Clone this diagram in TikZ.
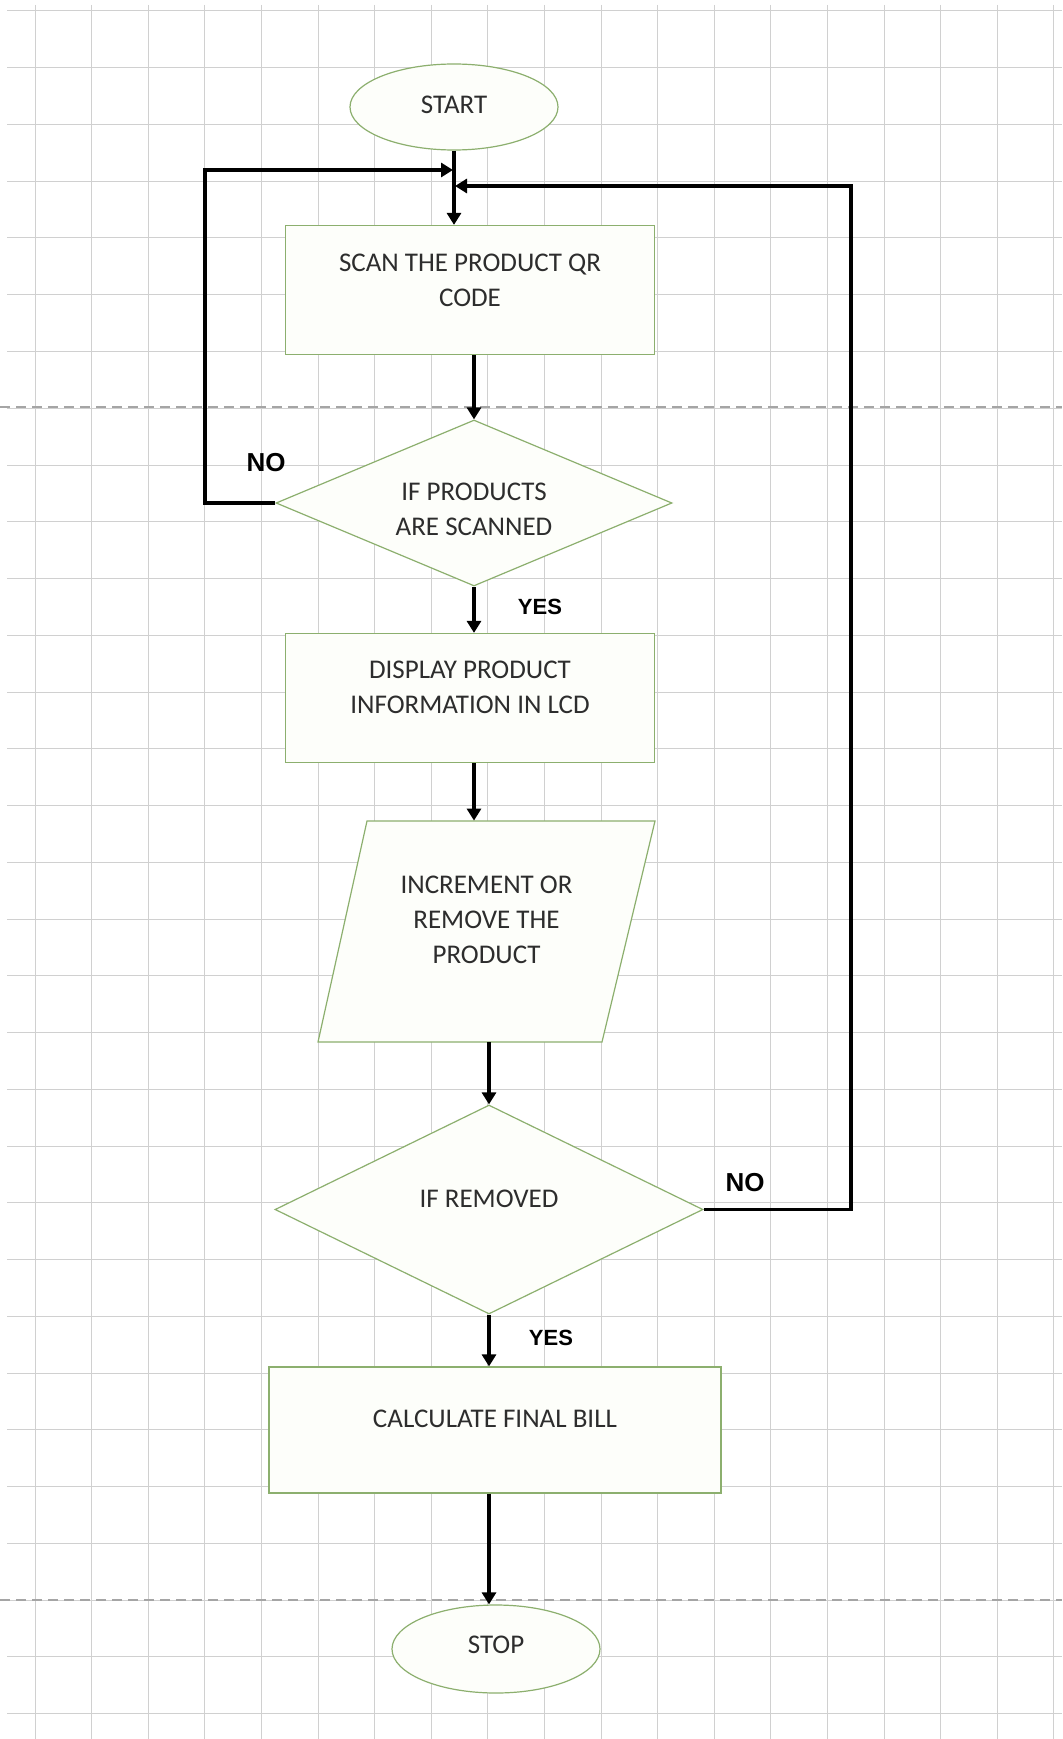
\documentclass[tikz,border=0pt]{standalone}
\usepackage{fontspec}
\setmainfont{Carlito}
\newfontfamily\labfont{Liberation Sans}
\usetikzlibrary{shapes.geometric,arrows.meta}
\definecolor{gridc}{RGB}{208,208,208}
\definecolor{pagec}{RGB}{165,165,165}
\definecolor{shapec}{RGB}{140,175,110}
\definecolor{shapefill}{RGB}{253,254,250}
\definecolor{txtc}{RGB}{45,45,45}
\begin{document}
\begin{tikzpicture}[x=0.5pt,y=-0.5pt,
 gridl/.style={draw=gridc,line width=0.5pt},
 pagel/.style={draw=pagec,line width=0.6pt,dash pattern=on 5pt off 3pt},
 shp/.style={draw=shapec,fill=shapefill,line width=0.6pt,inner sep=0pt},
 proc/.style={shp,rectangle},
 term/.style={shp,ellipse},
 dec/.style={shp,diamond},
 iobox/.style={rectangle,draw=none,fill=none,inner sep=0pt},
 txt/.style={text=txtc,font=\fontsize{13.5}{17.5}\selectfont,align=center,inner sep=0pt},
 arr/.style={draw=black,line width=1.8pt,-{Triangle[length=6pt,width=7pt]}},
 lab/.style={font=\labfont\bfseries\fontsize{13}{15}\selectfont,text=black,inner sep=0pt},
 ylab/.style={font=\labfont\bfseries\fontsize{11}{13}\selectfont,text=black,inner sep=0pt},
]
\useasboundingbox[fill=white] (0,0) rectangle (1062,1739);
% grid
\foreach \i in {0,...,18} \draw[gridl] ({35+56.6*\i},5) -- ({35+56.6*\i},1739);
\foreach \j in {0,...,30} \draw[gridl] (7,{11+56.75*\j}) -- (1062,{11+56.75*\j});
% page breaks
\draw[pagel] (0,407) -- (1062,407);
\draw[pagel] (0,1600) -- (1062,1600);

% parallelogram outline
\draw[shp] (367,821) -- (655,821) -- (602,1042) -- (318,1042) -- cycle;

% nodes
\node[term,minimum width=104pt,minimum height=43pt,label={[txt,yshift=1pt]center:START}] (start) at (454,107) {};
\node[proc,minimum width=184.5pt,minimum height=64.5pt,label={[txt,yshift=5pt]center:SCAN THE PRODUCT QR\\CODE}] (scan) at (470,290) {};
\node[dec,minimum width=198pt,minimum height=83pt,label={[txt,yshift=-3pt]center:IF PRODUCTS\\ARE SCANNED}] (d1) at (474,503) {};
\node[proc,minimum width=184.5pt,minimum height=64.5pt,label={[txt,yshift=5.5pt]center:DISPLAY PRODUCT\\INFORMATION IN LCD}] (disp) at (470,698) {};
\node[iobox,minimum width=168.5pt,minimum height=110.5pt,label={[txt,yshift=6pt]center:INCREMENT OR\\REMOVE THE\\PRODUCT}] (inc) at (486.5,931.5) {};
\node[dec,minimum width=214pt,minimum height=104.5pt,label={[txt,yshift=5.5pt]center:IF REMOVED}] (d2) at (489,1209.5) {};
\node[proc,minimum width=226pt,minimum height=63pt,label={[txt,yshift=5.5pt]center:CALCULATE FINAL BILL}] (calc) at (495,1430) {};
\node[term,minimum width=104pt,minimum height=44pt,label={[txt,yshift=2pt]center:STOP}] (stop) at (496,1649) {};

% helper coordinates
\coordinate (jl) at (453,170);
\coordinate (jr) at (455,186);
\coordinate (lc) at (205,0);
\coordinate (rc) at (851,0);

% connectors
\draw[arr] (start.south) -- (start.south |- scan.north);
\draw[arr] (d1.north |- scan.south) -- (d1.north);
\draw[arr] (d1.south) -- (d1.south |- disp.north);
\draw[arr] (d1.south |- disp.south) -- (d1.south |- inc.north);
\draw[arr] (d2.north |- inc.south) -- (d2.north);
\draw[arr] (d2.south) -- (d2.south |- calc.north);
\draw[arr] (d2.south |- calc.south) -- (d2.south |- stop.north);
\draw[arr] (d1.west) -- (d1.west -| lc) |- (jl);
\draw[arr] (d2.east) -- (d2.east -| rc) |- (jr);

% labels
\node[lab] (no1) at (266,463) {NO};
\node[lab] (no2) at (745,1183) {NO};
\node[ylab] (yes1) at (540,607) {YES};
\node[ylab] (yes2) at (551,1338) {YES};
\end{tikzpicture}
\end{document}
